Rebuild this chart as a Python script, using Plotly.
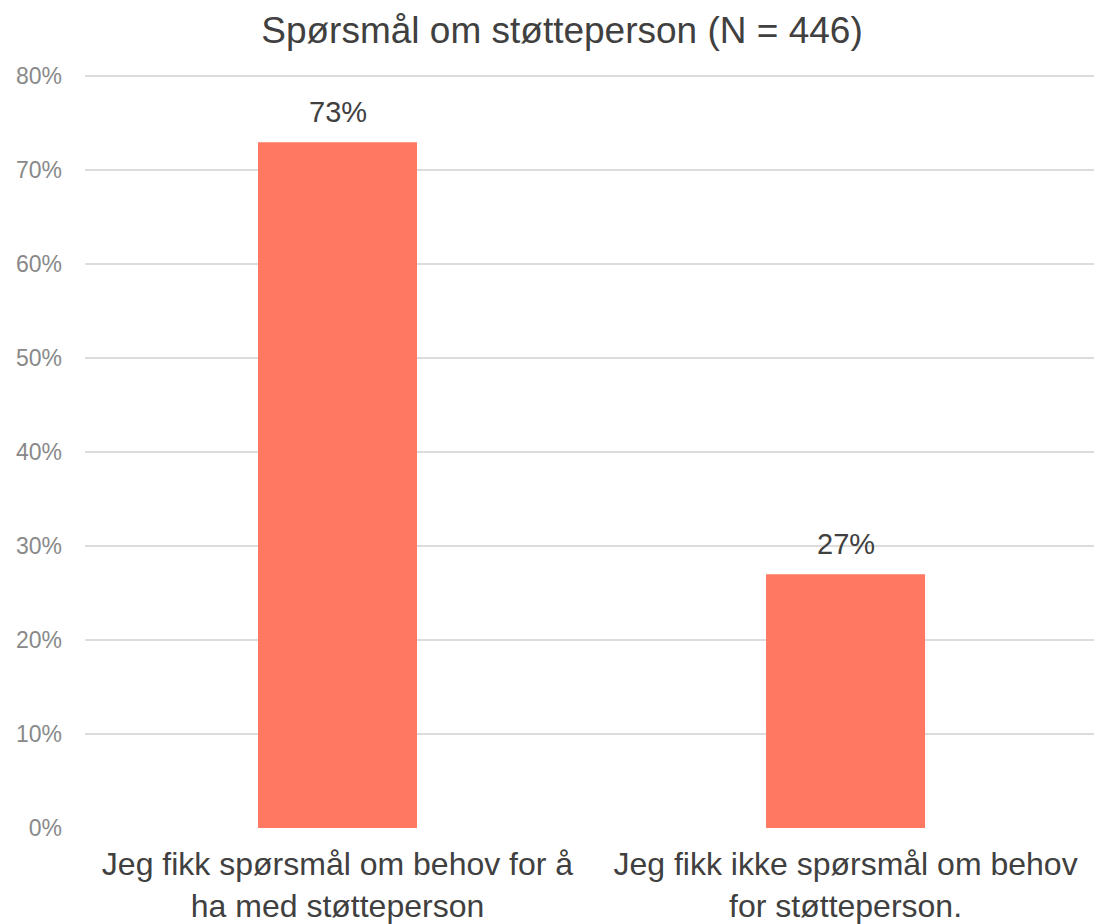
import plotly.graph_objects as go

categories = ["Jeg fikk spørsmål om behov for å<br>ha med støtteperson",
              "Jeg fikk ikke spørsmål om behov<br>for støtteperson."]
values = [73, 27]
labels = ["73%", "27%"]
title_text = "Spørsmål om støtteperson (N = 446)"
tick_vals = [0, 10, 20, 30, 40, 50, 60, 70, 80]
tick_text = ["0%", "10%", "20%", "30%", "40%", "50%", "60%", "70%", "80%"]

font_family = "Liberation Sans, Arial, sans-serif"

fig = go.Figure()
fig.add_trace(go.Bar(
    x=categories,
    y=values,
    width=0.313,
    marker=dict(color="#FF7861", line=dict(width=0)),
    hoverinfo="skip",
))

for c, v, t in zip(categories, values, labels):
    fig.add_annotation(
        x=c, y=v, text=t, showarrow=False,
        xanchor="center", yanchor="bottom", yshift=12,
        font=dict(size=29, color="#404040", family=font_family),
    )

fig.update_layout(
    width=1094,
    height=924,
    paper_bgcolor="white",
    plot_bgcolor="white",
    margin=dict(l=85, r=0, t=75, b=94),
    showlegend=False,
    title=dict(
        text=title_text,
        x=562 / 1094,
        xref="container",
        xanchor="center",
        y=1 - 30 / 924,
        yref="container",
        yanchor="middle",
        font=dict(size=37, color="#404040", family=font_family),
    ),
    xaxis=dict(
        type="category",
        range=[-0.497, 1.489],
        showgrid=False,
        showline=False,
        zeroline=False,
        ticks="",
        ticklabelstandoff=14,
        tickfont=dict(size=32, color="#404040", family=font_family),
    ),
    yaxis=dict(
        range=[0, 80.15],
        tickvals=tick_vals,
        ticktext=tick_text,
        showgrid=True,
        gridcolor="#DCDCDC",
        gridwidth=1.5,
        zeroline=False,
        showline=False,
        ticks="",
        ticklabelstandoff=22,
        tickfont=dict(size=23, color="#898989", family=font_family),
    ),
)

fig.write_html(
    "out.html",
    config={"displayModeBar": False},
    post_script="document.body.style.margin='0';document.body.style.overflow='hidden';",
)
